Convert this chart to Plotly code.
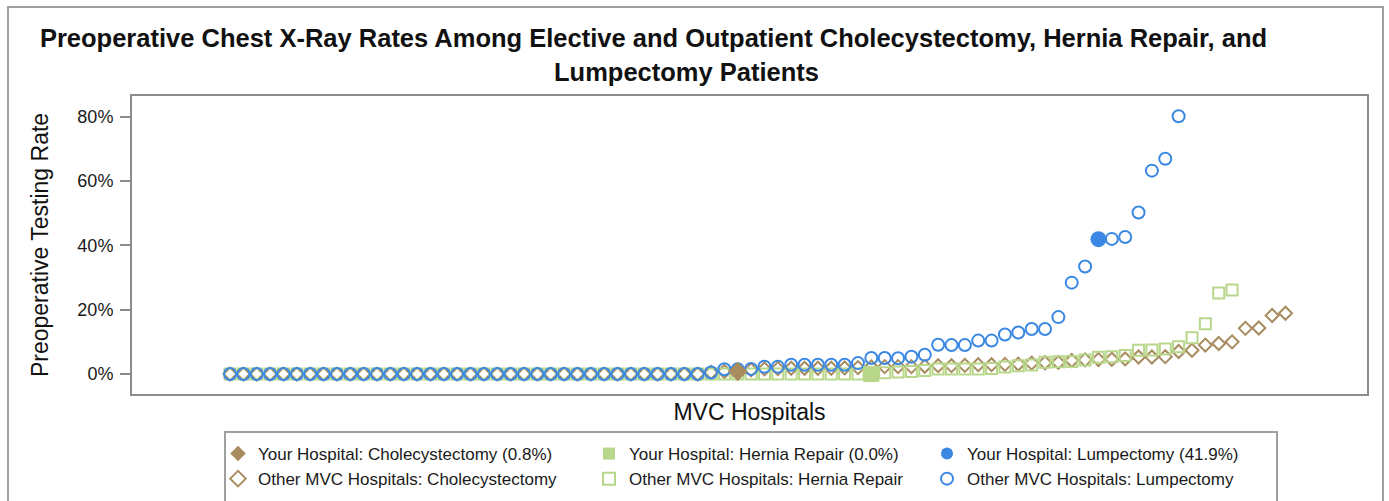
import plotly.graph_objects as go

# ---------------- data (percent values, ranked hospitals) ----------------
chole_other = [0]*36 + [0.5, 0.8, None, 1.3, 1.6, 1.7, 1.8, 1.8, 1.8, 1.8, 1.9, 2.0,
                        2.2, 2.3, 2.3, 2.3, 2.4, 2.6, 2.6, 2.7, 2.9, 2.9, 3.0, 3.1,
                        3.4, 3.5, 3.6, 4.2, 4.4, 4.5, 4.6, 4.7, 5.3, 5.3, 5.4, 7.0,
                        7.4, 9.0, 9.5, 10.0, 14.2, 14.3, 18.2, 18.9]
hernia_other = [0]*48 + [None, 0.4, 0.6, 0.8, 1.1, 1.6, 1.6, 1.6, 1.6, 1.7, 2.2, 2.6,
                         2.8, 3.7, 3.8, 3.9, 4.4, 5.2, 5.4, 5.8, 7.4, 7.5, 7.8, 8.5,
                         11.3, 15.6, 25.2, 26.1]
lump_other = [0]*36 + [0.5, 1.5, 1.5, 1.6, 2.3, 2.3, 2.9, 2.9, 2.9, 2.9, 2.9, 3.4,
                       5.0, 5.0, 4.9, 5.4, 6.0, 9.1, 9.0, 9.0, 10.4, 10.4, 12.3, 12.9,
                       14.0, 14.0, 17.7, 28.4, 33.4, None, 42.0, 42.6, 50.2, 63.2, 66.9, 80.1]

your_chole_rank, your_chole = 38, 0.8
your_hernia_rank, your_hernia = 48, 0.0
your_lump_rank, your_lump = 65, 41.9

names_your = ["Your Hospital: Cholecystectomy (0.8%)",
              "Your Hospital: Hernia Repair (0.0%)",
              "Your Hospital: Lumpectomy (41.9%)"]
names_other = ["Other MVC Hospitals: Cholecystectomy",
               "Other MVC Hospitals: Hernia Repair",
               "Other MVC Hospitals: Lumpectomy"]

ytick_vals = [0, 0.2, 0.4, 0.6, 0.8]

BROWN = "#A88B5F"
GREEN = "#B8D78A"
BLUE = "#3A88E4"
FONT = "Arial, Liberation Sans, sans-serif"

W, H = 1389, 501
L, R, T, B = 132, 22, 96, 107
PW, PH = W - L - R, H - T - B


def px_x(p):
    return (p - L) / PW


def px_y(p):
    return (H - B - p) / PH


def pct(v):
    return [None if a is None else a / 100 for a in v]


fig = go.Figure()

others = [(chole_other, "diamond-open", 10, BROWN, "legend"),
          (hernia_other, "square-open", 11, GREEN, "legend2"),
          (lump_other, "circle-open", 12, BLUE, "legend3")]
for (vals, sym, size, col, lg), nm in zip(others, names_other):
    fig.add_trace(go.Scatter(
        x=list(range(len(vals))), y=pct(vals), mode="markers", name=nm,
        marker=dict(symbol=sym, size=size, color=col, line=dict(width=2, color=col)),
        legend=lg, legendrank=2))

yours = [(your_chole_rank, your_chole, "diamond", 15, BROWN, "legend"),
         (your_hernia_rank, your_hernia, "square", 16, GREEN, "legend2"),
         (your_lump_rank, your_lump, "circle", 16, BLUE, "legend3")]
for (rk, v, sym, size, col, lg), nm in zip(yours, names_your):
    fig.add_trace(go.Scatter(
        x=[rk], y=[v / 100], mode="markers", name=nm,
        marker=dict(symbol=sym, size=size, color=col),
        legend=lg, legendrank=1))

leg_common = dict(orientation="v", yanchor="top", xanchor="left",
                  font=dict(family=FONT, size=17, color="#1a1a1a"),
                  bgcolor="rgba(0,0,0,0)", itemsizing="constant",
                  tracegroupgap=0)
y_leg = px_y(436)

fig.update_layout(
    width=W, height=H,
    margin=dict(l=L, r=R, t=T, b=B, pad=0, autoexpand=False),
    paper_bgcolor="white", plot_bgcolor="white",
    font=dict(family=FONT, color="#1a1a1a"),
    title=dict(text="<b>Preoperative Chest X-Ray Rates Among Elective and Outpatient Cholecystectomy, Hernia Repair, and</b>",
               x=653.5 / W, xref="container", xanchor="center",
               y=1 - 38 / H, yref="container", yanchor="middle",
               font=dict(family=FONT, size=25.5, color="#111111")),
    showlegend=True,
    legend=dict(x=px_x(218), y=y_leg, **leg_common),
    legend2=dict(x=px_x(589), y=y_leg, **leg_common),
    legend3=dict(x=px_x(927), y=y_leg, **leg_common),
    xaxis=dict(range=[-7.34, 85.1], showticklabels=False, ticks="",
               showgrid=False, zeroline=False, automargin=False,
               showline=True, mirror=True, linecolor="#8C8C8C", linewidth=2,
               title=dict(text="MVC Hospitals", standoff=9,
                          font=dict(family=FONT, size=23, color="#111111"))),
    yaxis=dict(range=[-0.062, 0.864], tickvals=ytick_vals, tickformat=".0%",
               ticks="outside", ticklen=10, tickwidth=2, tickcolor="#8C8C8C",
               ticklabelstandoff=3, automargin=False,
               tickfont=dict(family=FONT, size=18, color="#1a1a1a"),
               showgrid=False, zeroline=False,
               showline=True, mirror=True, linecolor="#8C8C8C", linewidth=2,
               title=dict(text="Preoperative Testing Rate", standoff=22,
                          font=dict(family=FONT, size=23, color="#111111"))),
    annotations=[dict(text="<b>Lumpectomy Patients</b>", xref="paper", yref="paper",
                      x=px_x(686), y=px_y(72), xanchor="center", yanchor="middle",
                      showarrow=False,
                      font=dict(family=FONT, size=25.5, color="#111111"))],
    shapes=[
        dict(type="rect", xref="paper", yref="paper",
             x0=px_x(8), x1=px_x(1383), y0=px_y(7), y1=px_y(530),
             line=dict(color="#A0A0A0", width=2), layer="below"),
        dict(type="rect", xref="paper", yref="paper",
             x0=px_x(225), x1=px_x(1277), y0=px_y(432), y1=px_y(530),
             line=dict(color="#A0A0A0", width=2), layer="below"),
    ],
)

fig.write_html("out.html", config={"displayModeBar": False},
               post_script="document.body.style.margin='0';")
